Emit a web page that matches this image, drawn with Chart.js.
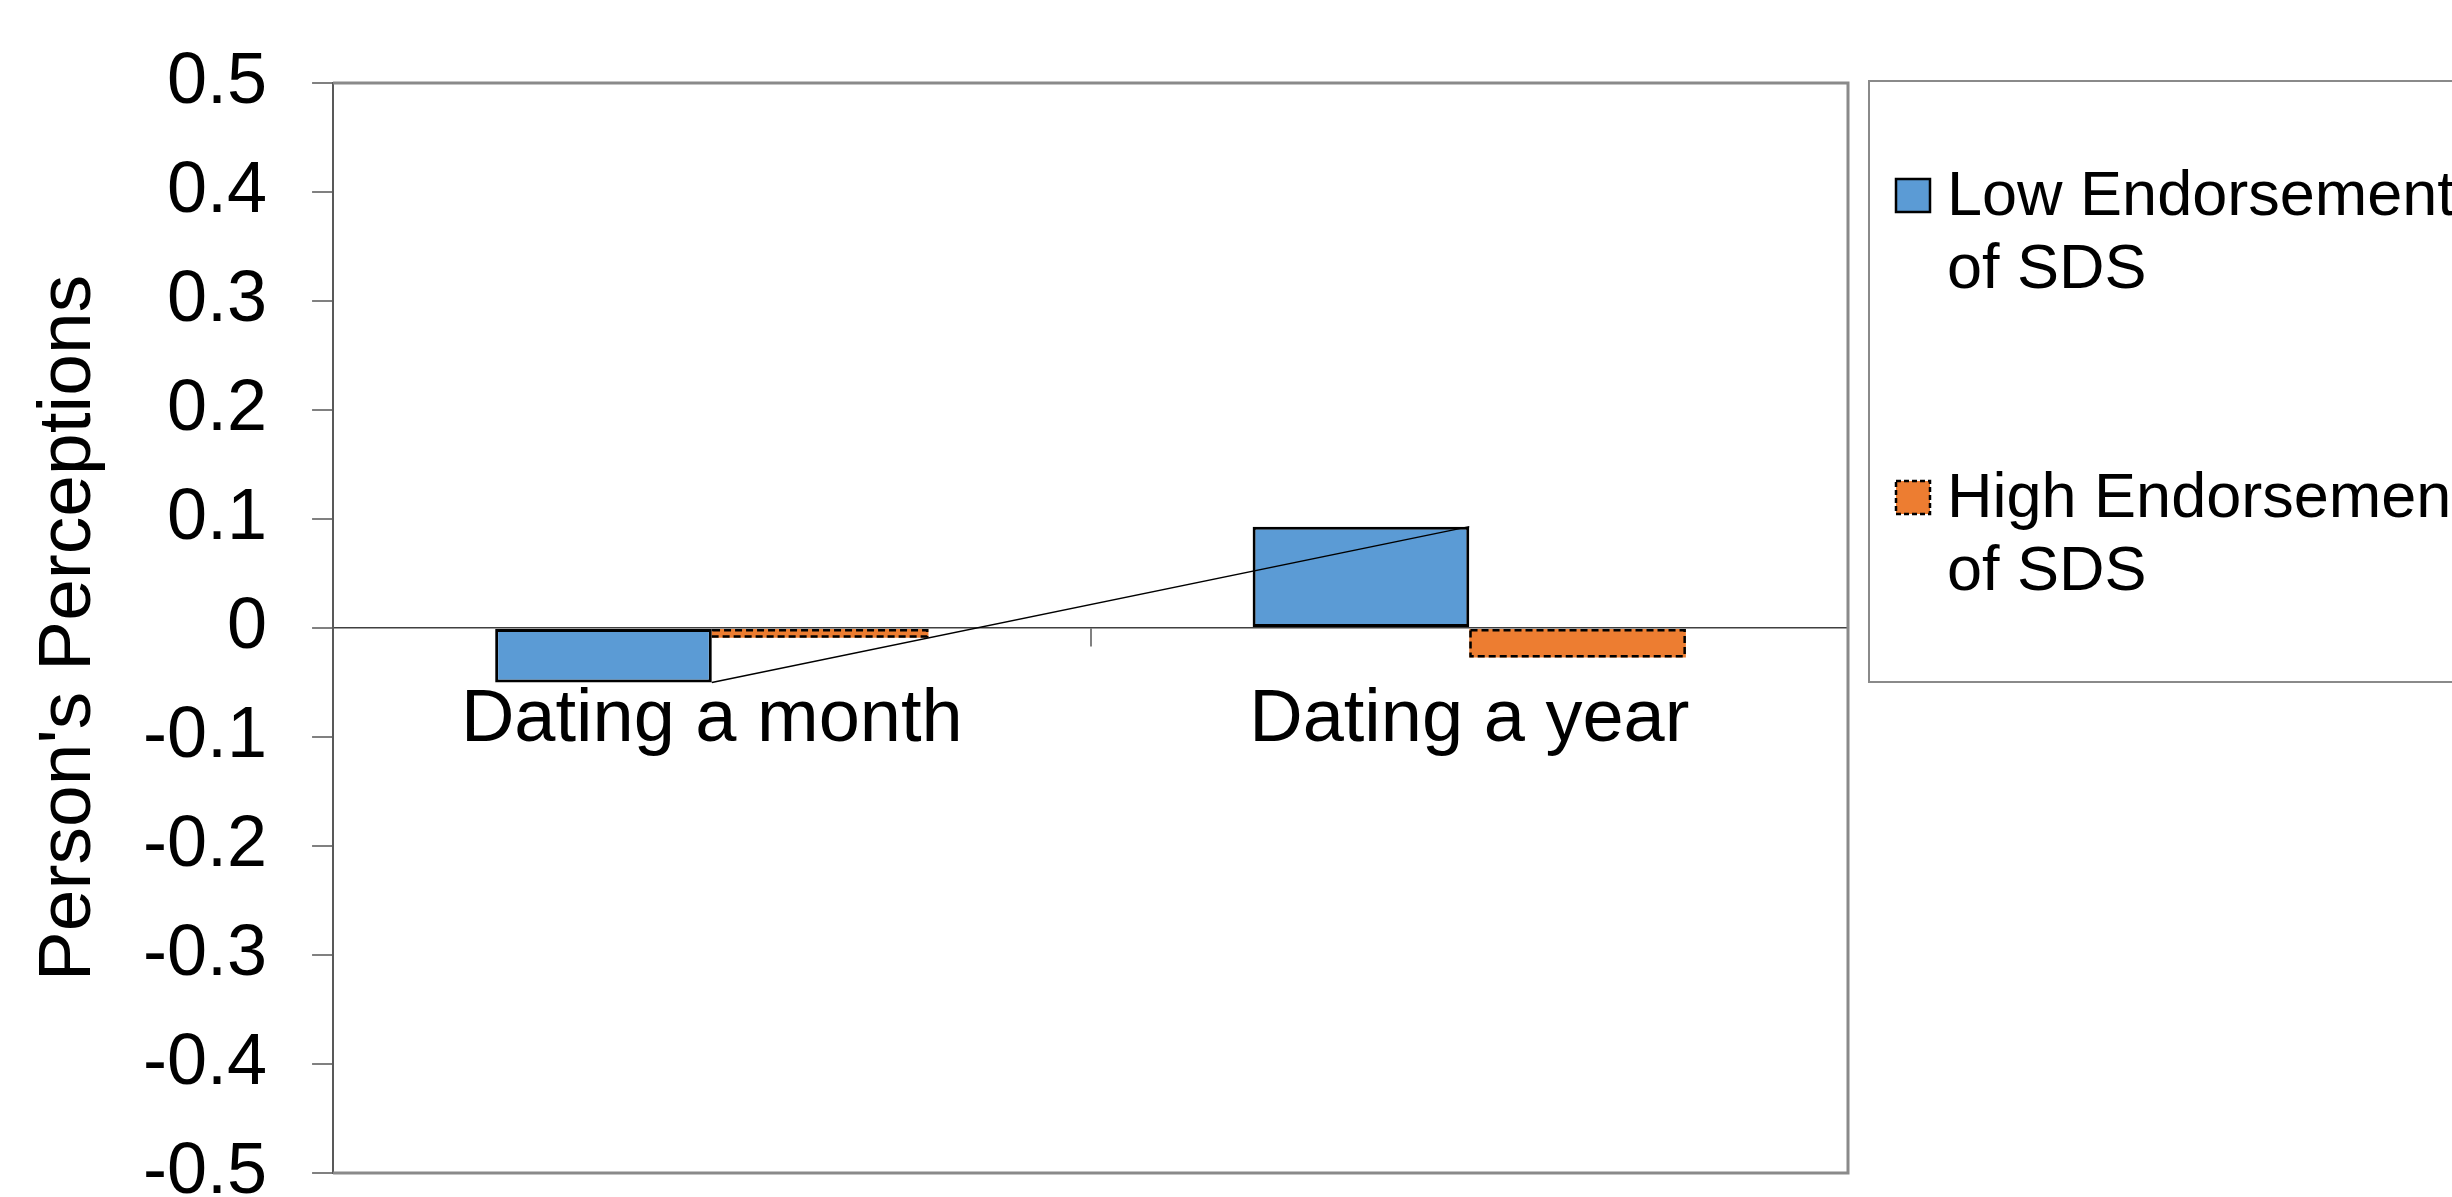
<!DOCTYPE html>
<html>
<head>
<meta charset="utf-8">
<script src="https://cdn.jsdelivr.net/npm/chart.js@4/dist/chart.umd.min.js"></script>
<style>
  body { margin: 0; background: #fff; }
</style>
</head>
<body>
<canvas id="grafico" width="2452" height="1197"></canvas>
<script>
const categorias = ['Dating a month', 'Dating a year'];
const rotulos = ['Low Endorsement of SDS', 'High Endorsement of SDS'];
const rotulosLegenda = [['Low Endorsement', 'of SDS'], ['High Endorsement', 'of SDS']];
const valoresBaixo = [-0.05, 0.093];
const valoresAlto = [-0.009, -0.027];
const tituloY = "Person's Perceptions";

const fonte = '"Liberation Sans", Arial, sans-serif';

// borda tracejada das barras laranja (o Chart.js nao faz dash em barras)
const bordaTracejada = {
  id: 'bordaTracejada',
  afterDatasetDraw(chart, args) {
    if (args.index !== 1) return;
    const ctx = chart.ctx;
    ctx.save();
    ctx.strokeStyle = '#000';
    ctx.lineWidth = 2.5;
    ctx.setLineDash([7, 4]);
    args.meta.data.forEach(barra => {
      const p = barra.getProps(['x', 'y', 'base', 'width'], true);
      const topo = Math.min(p.y, p.base);
      const altura = Math.abs(p.base - p.y);
      ctx.strokeRect(p.x - p.width / 2 + 1.25, topo + 1.25, p.width - 2.5, Math.max(altura - 2.5, 0));
    });
    ctx.restore();
  }
};

// moldura cinza do grafico e legenda desenhada a mao
const moldura = {
  id: 'moldura',
  beforeDatasetsDraw(chart) {
    const a = chart.chartArea;
    const ctx = chart.ctx;
    ctx.save();
    ctx.strokeStyle = '#8a8a8a';
    ctx.lineWidth = 3;
    ctx.beginPath();
    ctx.moveTo(a.left, a.top);
    ctx.lineTo(a.right, a.top);
    ctx.lineTo(a.right, a.bottom);
    ctx.lineTo(a.left, a.bottom);
    ctx.stroke();
    ctx.restore();
  },
  afterDraw(chart) {
    const ctx = chart.ctx;
    ctx.save();
    ctx.strokeStyle = '#8a8a8a';
    ctx.lineWidth = 2;
    ctx.strokeRect(1869, 81, 700, 601);

    const topos = [179, 481];
    ctx.font = '63px ' + fonte;
    ctx.fillStyle = '#000';
    ctx.textBaseline = 'alphabetic';
    ctx.textAlign = 'left';
    chart.data.datasets.slice(0, 2).forEach((ds, i) => {
      const y = topos[i];
      ctx.fillStyle = ds.backgroundColor;
      ctx.fillRect(1896, y, 34, 33);
      ctx.strokeStyle = '#000';
      ctx.lineWidth = 2.5;
      ctx.setLineDash(i === 1 ? [5, 3] : []);
      ctx.strokeRect(1896, y, 34, 33);
      ctx.setLineDash([]);
      ctx.fillStyle = '#000';
      rotulosLegenda[i].forEach((linha, j) => {
        ctx.fillText(linha, 1947, y + 36 + j * 73);
      });
    });
    ctx.restore();
  }
};

function gerarGrafico() {
  const ctx = document.getElementById('grafico').getContext('2d');
  new Chart(ctx, {
    type: 'bar',
    data: {
      labels: categorias,
      datasets: [
        {
          label: rotulos[0],
          data: valoresBaixo,
          backgroundColor: '#5b9bd5',
          borderColor: '#000',
          borderWidth: 3,
          borderSkipped: false,
          order: 1
        },
        {
          label: rotulos[1],
          data: valoresAlto,
          backgroundColor: '#ed7d31',
          borderWidth: 0,
          order: 1
        },
        {
          type: 'line',
          label: rotulos[0],
          data: valoresBaixo,
          borderColor: '#000',
          borderWidth: 1.5,
          pointRadius: 0,
          fill: false,
          order: 0
        }
      ]
    },
    options: {
      responsive: false,
      animation: false,
      devicePixelRatio: 1,
      categoryPercentage: 0.572,
      barPercentage: 1,
      layout: {
        padding: { left: 47, top: 83, right: 604, bottom: 24 }
      },
      plugins: {
        legend: { display: false },
        tooltip: { enabled: false }
      },
      scales: {
        x: {
          position: { y: 0 },
          grid: {
            offset: true,
            drawOnChartArea: false,
            tickLength: 18,
            color: '#808080',
            lineWidth: 2
          },
          border: { color: '#404040', width: 1.5 },
          ticks: {
            color: '#000',
            padding: 30,
            maxRotation: 0,
            font: { family: fonte, size: 74, lineHeight: 1.2 }
          }
        },
        y: {
          min: -0.5,
          max: 0.5,
          afterFit: escala => {
            // os rotulos das pontas podem passar da margem, como no original
            escala.paddingTop = 0;
            escala.paddingBottom = 0;
          },
          grid: {
            drawOnChartArea: false,
            tickLength: 21,
            color: '#808080',
            lineWidth: 2
          },
          border: { color: '#595959', width: 2 },
          ticks: {
            stepSize: 0.1,
            color: '#000',
            padding: 45,
            font: { family: fonte, size: 72, lineHeight: 0.7 },
            callback: valor => String(Math.round(valor * 10) / 10)
          },
          title: {
            display: true,
            text: tituloY,
            color: '#000',
            padding: { top: 0, bottom: 6 },
            font: { family: fonte, size: 75, lineHeight: 0.6 }
          }
        }
      }
    },
    plugins: [bordaTracejada, moldura]
  });
}

window.onload = gerarGrafico;
</script>
</body>
</html>
